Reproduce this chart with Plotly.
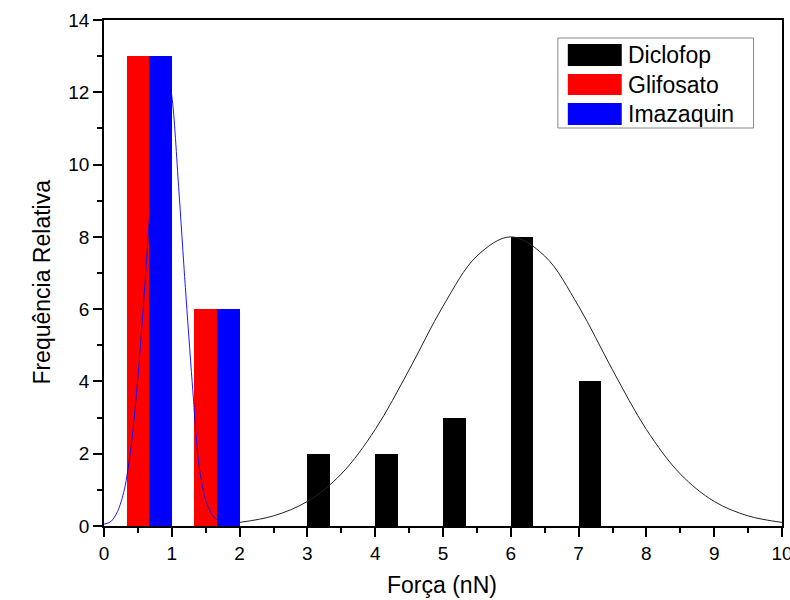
import plotly.graph_objects as go

# ---- data ----
diclofop_x = [3, 4, 5, 6, 7]
diclofop_y = [2, 2, 3, 8, 4]
glifosato_x = [0, 1]
glifosato_y = [13, 6]
imazaquin_x = [0, 1]
imazaquin_y = [13, 6]

# fitted curves
fit_blue_x = [0.0, 0.1, 0.2, 0.3, 0.4, 0.5, 0.6, 0.7, 0.8, 0.9, 1.0, 1.1, 1.2, 1.3, 1.4, 1.5, 1.6, 1.7, 1.8, 2.0]
fit_blue_y = [0.05, 0.12, 0.4, 1.0, 2.2, 4.1, 6.6, 9.3, 11.6, 12.8, 11.9, 9.4, 6.6, 4.0, 1.7, 0.7, 0.3, 0.12, 0.05, 0.01]
fit_black_x = [2.0, 2.5, 3.0, 3.5, 4.0, 4.5, 5.0, 5.5, 6.0, 6.5, 7.0, 7.5, 8.0, 8.5, 9.0, 9.5, 10.0]
fit_black_y = [0.10, 0.28, 0.68, 1.44, 2.67, 4.32, 6.08, 7.47, 8.0, 7.47, 6.08, 4.32, 2.67, 1.44, 0.68, 0.28, 0.10]

series_names = ["Diclofop", "Glifosato", "Imazaquin"]
series_colors = ["#000000", "#ff0000", "#0000ff"]

x_ticks = list(range(0, 11))
y_ticks = list(range(0, 15, 2))
x_title = "Força (nN)"
y_title = "Frequência Relativa"

FONT = "Arial, Liberation Sans, sans-serif"

fig = go.Figure()
bw = 1 / 3
fig.add_trace(go.Bar(x=diclofop_x, y=diclofop_y, width=bw, offset=0,
                     marker=dict(color=series_colors[0], line=dict(width=0)),
                     name=series_names[0], showlegend=False))
fig.add_trace(go.Bar(x=glifosato_x, y=glifosato_y, width=bw, offset=bw,
                     marker=dict(color=series_colors[1], line=dict(width=0)),
                     name=series_names[1], showlegend=False))
fig.add_trace(go.Bar(x=imazaquin_x, y=imazaquin_y, width=bw, offset=2 * bw,
                     marker=dict(color=series_colors[2], line=dict(width=0)),
                     name=series_names[2], showlegend=False))
fig.add_trace(go.Scatter(x=fit_blue_x, y=fit_blue_y, mode="lines",
                         line=dict(color="#0000ff", width=0.9, shape="spline", smoothing=0.8),
                         showlegend=False, hoverinfo="skip"))
fig.add_trace(go.Scatter(x=fit_black_x, y=fit_black_y, mode="lines",
                         line=dict(color="#222222", width=1, shape="spline"),
                         showlegend=False, hoverinfo="skip"))

# plot-area pixel geometry used to place the hand-drawn legend
L, R, T, B = 103.5, 782.5, 20, 526
def px(v):
    return (v - L) / (R - L)
def py(v):
    return (B - v) / (B - T)

shapes = [dict(type="rect", xref="paper", yref="paper",
               x0=px(558), x1=px(754), y0=py(128), y1=py(38),
               line=dict(color="#8a8a8a", width=1), fillcolor="white", layer="above")]
annotations = []
rows = [(44, 66), (74, 95), (103, 125)]
for (top, bot), name, col in zip(rows, series_names, series_colors):
    shapes.append(dict(type="rect", xref="paper", yref="paper",
                       x0=px(568), x1=px(622), y0=py(bot), y1=py(top),
                       line=dict(width=0), fillcolor=col, layer="above"))
    annotations.append(dict(xref="paper", yref="paper", x=px(626), y=py((top + bot) / 2),
                            text=name, showarrow=False, xanchor="left", yanchor="middle",
                            font=dict(family=FONT, size=23, color="black")))

# axis titles
annotations.append(dict(xref="paper", yref="paper", x=px(442), y=py(599),
                        text=x_title, showarrow=False, xanchor="center", yanchor="bottom",
                        borderpad=0,
                        font=dict(family=FONT, size=23, color="black")))
annotations.append(dict(xref="paper", yref="paper", x=px(41), y=py(282),
                        text=y_title, showarrow=False, xanchor="center", yanchor="middle",
                        textangle=-90,
                        font=dict(family=FONT, size=23, color="black")))

fig.update_layout(
    width=790, height=600,
    margin=dict(l=L, r=790 - R, t=T, b=600 - B, autoexpand=False),
    paper_bgcolor="white", plot_bgcolor="white",
    barmode="overlay", bargap=0,
    font=dict(family=FONT, size=18, color="black"),
    shapes=shapes, annotations=annotations,
    showlegend=False,
)
fig.update_xaxes(range=[0, 10], tickvals=x_ticks, ticktext=[str(v) for v in x_ticks],
                 ticklabeloverflow="allow", automargin=False,
                 showgrid=False, zeroline=False,
                 showline=True, linecolor="black", linewidth=1.5, mirror=True,
                 ticks="outside", ticklen=9, tickwidth=1.5, tickcolor="black",
                 minor=dict(ticks="outside", ticklen=5, tickwidth=1.5, tickcolor="black", dtick=0.5, showgrid=False),
                 tickfont=dict(size=19))
fig.update_yaxes(range=[0, 14], tickvals=y_ticks, ticktext=[str(v) for v in y_ticks],
                 automargin=False,
                 showgrid=False, zeroline=False,
                 showline=True, linecolor="black", linewidth=1.5, mirror=True,
                 ticks="outside", ticklen=9, tickwidth=1.5, tickcolor="black",
                 minor=dict(ticks="outside", ticklen=5, tickwidth=1.5, tickcolor="black", dtick=1, showgrid=False),
                 tickfont=dict(size=19))

fig.write_html("out.html")
